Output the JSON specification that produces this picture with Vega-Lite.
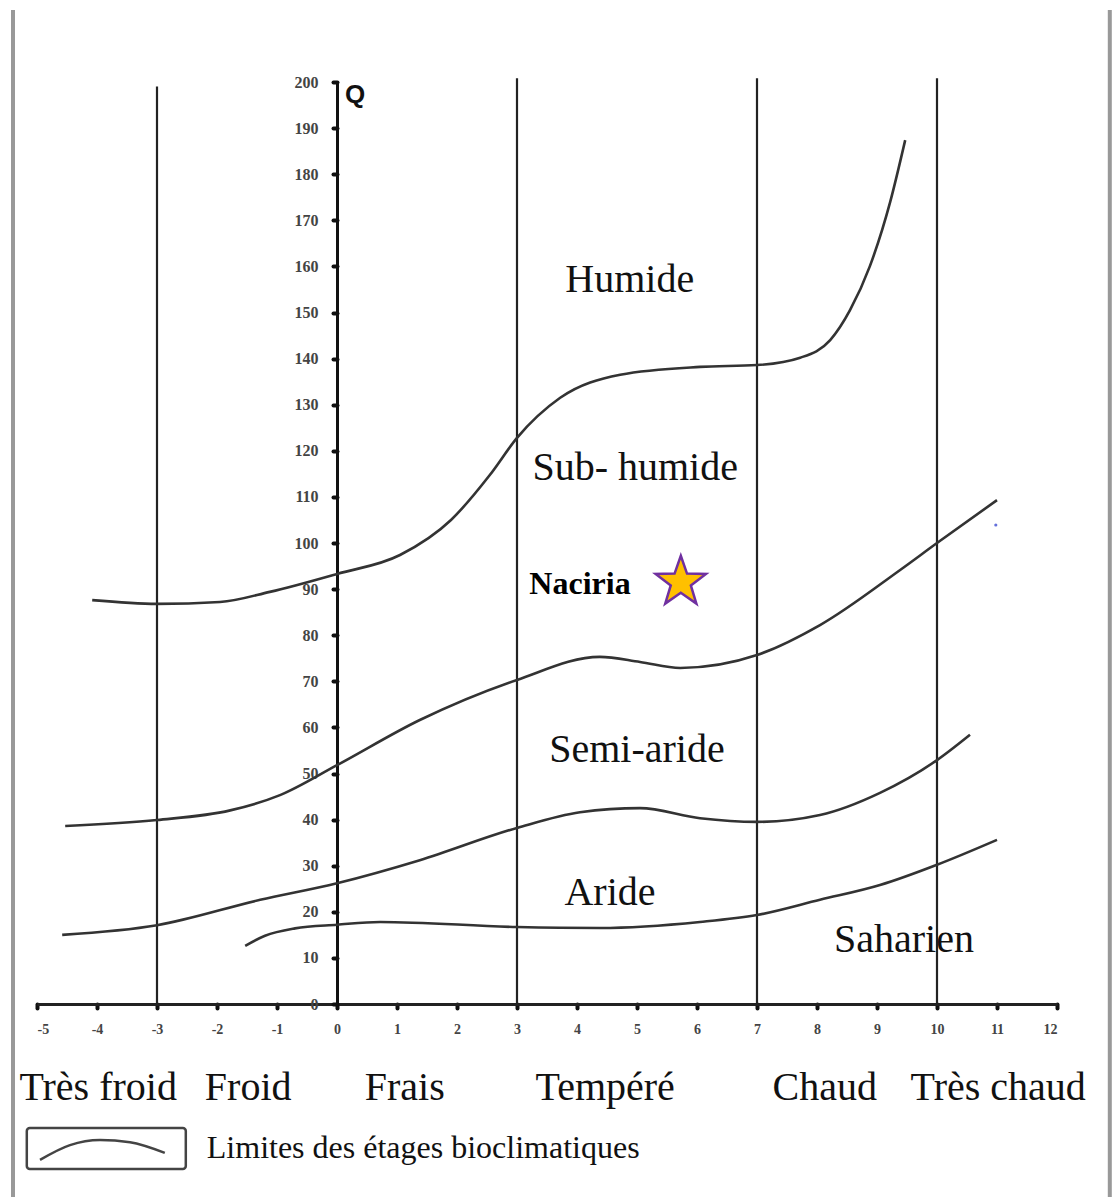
{
  "$schema": "https://vega.github.io/schema/vega-lite/v6.json",
  "width": 1020,
  "height": 922,
  "autosize": {"type": "none"},
  "padding": {"left": 37, "top": 82, "right": 59, "bottom": 193},
  "background": "white",
  "config": {"view": {"stroke": null}, "font": "Liberation Serif"},
  "datasets": {
    "curves": [
      {"curve": "c1", "m": -4.08, "Q": 87.6},
      {"curve": "c1", "m": -3, "Q": 86.8},
      {"curve": "c1", "m": -1.95, "Q": 87.2},
      {"curve": "c1", "m": -1.12, "Q": 89.4},
      {"curve": "c1", "m": 0, "Q": 93.3},
      {"curve": "c1", "m": 1.05, "Q": 97.4},
      {"curve": "c1", "m": 1.9, "Q": 105},
      {"curve": "c1", "m": 2.55, "Q": 114.8},
      {"curve": "c1", "m": 3, "Q": 122.8},
      {"curve": "c1", "m": 3.72, "Q": 131.5},
      {"curve": "c1", "m": 4.72, "Q": 136.5},
      {"curve": "c1", "m": 6.05, "Q": 138.2},
      {"curve": "c1", "m": 7, "Q": 138.6},
      {"curve": "c1", "m": 7.72, "Q": 140.2},
      {"curve": "c1", "m": 8.22, "Q": 144},
      {"curve": "c1", "m": 8.55, "Q": 150.5},
      {"curve": "c1", "m": 8.88, "Q": 160},
      {"curve": "c1", "m": 9.22, "Q": 174},
      {"curve": "c1", "m": 9.47, "Q": 187.4},
      {"curve": "c2", "m": -4.53, "Q": 38.6},
      {"curve": "c2", "m": -3, "Q": 39.9},
      {"curve": "c2", "m": -1.78, "Q": 42},
      {"curve": "c2", "m": -0.95, "Q": 45.3},
      {"curve": "c2", "m": 0, "Q": 51.8},
      {"curve": "c2", "m": 1.38, "Q": 61.6},
      {"curve": "c2", "m": 3, "Q": 70.3},
      {"curve": "c2", "m": 4.38, "Q": 75.3},
      {"curve": "c2", "m": 5.05, "Q": 74.2},
      {"curve": "c2", "m": 5.72, "Q": 72.9},
      {"curve": "c2", "m": 7, "Q": 75.7},
      {"curve": "c2", "m": 8.05, "Q": 82.2},
      {"curve": "c2", "m": 9.38, "Q": 94.1},
      {"curve": "c2", "m": 10, "Q": 100},
      {"curve": "c2", "m": 11, "Q": 109.3},
      {"curve": "c3", "m": -4.58, "Q": 15},
      {"curve": "c3", "m": -3, "Q": 17.1},
      {"curve": "c3", "m": -1.28, "Q": 22.6},
      {"curve": "c3", "m": 0, "Q": 26.2},
      {"curve": "c3", "m": 1.38, "Q": 31.2},
      {"curve": "c3", "m": 3, "Q": 38.2},
      {"curve": "c3", "m": 4.05, "Q": 41.6},
      {"curve": "c3", "m": 5.05, "Q": 42.5},
      {"curve": "c3", "m": 6.05, "Q": 40.3},
      {"curve": "c3", "m": 7, "Q": 39.5},
      {"curve": "c3", "m": 8.05, "Q": 41},
      {"curve": "c3", "m": 9.05, "Q": 45.8},
      {"curve": "c3", "m": 10, "Q": 52.9},
      {"curve": "c3", "m": 10.55, "Q": 58.4},
      {"curve": "c4", "m": -1.53, "Q": 12.6},
      {"curve": "c4", "m": -1.2, "Q": 14.8},
      {"curve": "c4", "m": -0.7, "Q": 16.4},
      {"curve": "c4", "m": 0, "Q": 17.2},
      {"curve": "c4", "m": 0.72, "Q": 17.8},
      {"curve": "c4", "m": 3, "Q": 16.7},
      {"curve": "c4", "m": 4.38, "Q": 16.5},
      {"curve": "c4", "m": 6.05, "Q": 17.8},
      {"curve": "c4", "m": 7, "Q": 19.3},
      {"curve": "c4", "m": 8.05, "Q": 22.6},
      {"curve": "c4", "m": 9.05, "Q": 25.8},
      {"curve": "c4", "m": 10, "Q": 30.2},
      {"curve": "c4", "m": 11, "Q": 35.6}
    ],
    "bounds": [
      {"m": -3, "Q": 0, "Q2": 199},
      {"m": 3, "Q": 0, "Q2": 200.8},
      {"m": 7, "Q": 0, "Q2": 200.8},
      {"m": 10, "Q": 0, "Q2": 200.8}
    ],
    "frame": [
      {"m": -5.4, "Q": -41.9, "Q2": 215.6},
      {"m": 12.88, "Q": -41.9, "Q2": 215.6}
    ],
    "zones": [
      {"label": "Humide", "m": 4.88, "Q": 154.4},
      {"label": "Sub- humide", "m": 4.97, "Q": 113.7},
      {"label": "Semi-aride", "m": 5.0, "Q": 52.5},
      {"label": "Aride", "m": 4.55, "Q": 21.5},
      {"label": "Saharien", "m": 9.45, "Q": 11.3},
      {"label": "Très froid", "m": -3.98, "Q": -20.8},
      {"label": "Froid", "m": -1.48, "Q": -20.8},
      {"label": "Frais", "m": 1.13, "Q": -20.8},
      {"label": "Tempéré", "m": 4.47, "Q": -20.8},
      {"label": "Chaud", "m": 8.13, "Q": -20.8},
      {"label": "Très chaud", "m": 11.02, "Q": -20.8}
    ],
    "station": [{"label": "Naciria", "m": 4.05, "Q": 89, "sm": 5.73, "sQ": 91.5}],
    "qlabel": [{"label": "Q", "m": 0.3, "Q": 195.5}],
    "legendbox": [{"m": -5.17, "m2": -2.52, "Q": -26.9, "Q2": -35.8}],
    "legendcurve": [
      {"m": -4.95, "Q": -33.8},
      {"m": -4.45, "Q": -30.6},
      {"m": -3.95, "Q": -29.5},
      {"m": -3.45, "Q": -30.0},
      {"m": -2.87, "Q": -32.3}
    ],
    "legendtext": [{"label": "Limites des étages bioclimatiques", "m": -2.17, "Q": -33.4}],
    "dot": [{"m": 10.98, "Q": 103.9}]
  },
  "encoding": {
    "x": {
      "field": "m",
      "type": "quantitative",
      "scale": {"domain": [-5, 12], "nice": false, "zero": false},
      "axis": {
        "title": null,
        "grid": false,
        "values": [-5, -4, -3, -2, -1, 0, 1, 2, 3, 4, 5, 6, 7, 8, 9, 10, 11, 12],
        "labelExpr": "datum.value + ''",
        "domainColor": "#222",
        "domainWidth": 3,
        "tickColor": "#111",
        "tickSize": 4,
        "tickWidth": 4,
        "tickCap": "round",
        "labelFont": "Liberation Serif",
        "labelFontSize": 14,
        "labelFontWeight": "bold",
        "labelColor": "#444",
        "labelPadding": 14
      }
    },
    "y": {
      "field": "Q",
      "type": "quantitative",
      "scale": {"domain": [0, 200], "nice": false, "zero": false},
      "axis": {
        "title": null,
        "grid": false,
        "offset": -300,
        "values": [0, 10, 20, 30, 40, 50, 60, 70, 80, 90, 100, 110, 120, 130, 140, 150, 160, 170, 180, 190, 200],
        "labelExpr": "datum.value + ''",
        "domainColor": "#111",
        "domainWidth": 3,
        "tickColor": "#111",
        "tickSize": 4,
        "tickWidth": 4,
        "tickCap": "round",
        "labelFont": "Liberation Serif",
        "labelFontSize": 16,
        "labelFontWeight": "bold",
        "labelColor": "#444",
        "labelPadding": 15
      }
    }
  },
  "layer": [
    {
      "data": {"name": "frame"},
      "mark": {"type": "rule", "color": "#999", "strokeWidth": 4},
      "encoding": {"y2": {"field": "Q2"}}
    },
    {
      "data": {"name": "bounds"},
      "mark": {"type": "rule", "color": "#222", "strokeWidth": 2.2},
      "encoding": {"y2": {"field": "Q2"}}
    },
    {
      "data": {"name": "curves"},
      "mark": {"type": "line", "interpolate": "monotone", "color": "#333", "strokeWidth": 2.6},
      "encoding": {"detail": {"field": "curve"}}
    },
    {
      "data": {"name": "zones"},
      "mark": {"type": "text", "font": "Liberation Serif", "fontSize": 40, "align": "center", "baseline": "alphabetic", "color": "#111"},
      "encoding": {"text": {"field": "label"}}
    },
    {
      "data": {"name": "station"},
      "mark": {"type": "text", "font": "Liberation Serif", "fontSize": 32, "fontWeight": "bold", "align": "center", "baseline": "alphabetic", "color": "#000"},
      "encoding": {"text": {"field": "label"}}
    },
    {
      "data": {"name": "station"},
      "mark": {
        "type": "point",
        "shape": "M0,-1L0.235,-0.324L0.951,-0.309L0.38,0.124L0.588,0.809L0,0.4L-0.588,0.809L-0.38,0.124L-0.951,-0.309L-0.235,-0.324Z",
        "size": 2800,
        "filled": true,
        "fill": "#FFC000",
        "stroke": "#7030A0",
        "strokeWidth": 2.5,
        "opacity": 1
      },
      "encoding": {"x": {"field": "sm", "type": "quantitative"}, "y": {"field": "sQ", "type": "quantitative"}}
    },
    {
      "data": {"name": "qlabel"},
      "mark": {"type": "text", "font": "Liberation Sans", "fontSize": 26, "fontWeight": "bold", "align": "center", "baseline": "alphabetic", "color": "#111"},
      "encoding": {"text": {"field": "label"}}
    },
    {
      "data": {"name": "legendbox"},
      "mark": {"type": "rect", "fill": "white", "stroke": "#444", "strokeWidth": 2.5, "cornerRadius": 3},
      "encoding": {"x2": {"field": "m2"}, "y2": {"field": "Q2"}}
    },
    {
      "data": {"name": "legendcurve"},
      "mark": {"type": "line", "interpolate": "monotone", "color": "#444", "strokeWidth": 2.5},
      "encoding": {}
    },
    {
      "data": {"name": "legendtext"},
      "mark": {"type": "text", "font": "Liberation Serif", "fontSize": 32, "align": "left", "baseline": "alphabetic", "color": "#111"},
      "encoding": {"text": {"field": "label"}}
    },
    {
      "data": {"name": "dot"},
      "mark": {"type": "point", "filled": true, "color": "#2233cc", "size": 10},
      "encoding": {}
    }
  ]
}
